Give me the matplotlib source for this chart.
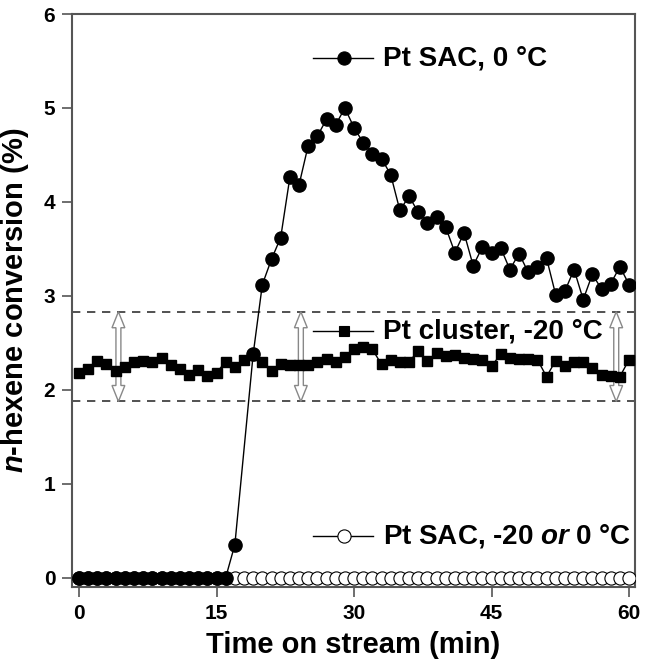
import numpy as np
import matplotlib.pyplot as plt
from matplotlib.patches import Polygon

plt.rcParams['font.family'] = ['Liberation Sans', 'DejaVu Sans']
plt.rcParams['font.weight'] = 'bold'
plt.rcParams['mathtext.fontset'] = 'custom'
plt.rcParams['mathtext.it'] = 'Liberation Sans:italic'
plt.rcParams['mathtext.bfit'] = 'Liberation Sans:italic:bold'
plt.rcParams['mathtext.rm'] = 'Liberation Sans:bold'

# Pt SAC at 0 C (no point recorded at 18 min)
t_sac0 = list(range(0, 18)) + list(range(19, 61))
y_sac0 = [0] * 17 + [0.35, 2.38, 3.12, 3.39, 3.62, 4.26, 4.18, 4.60, 4.70, 4.88,
                     4.82, 5.00, 4.79, 4.63, 4.51, 4.46, 4.29, 3.91, 4.06, 3.89,
                     3.78, 3.84, 3.73, 3.46, 3.67, 3.32, 3.52, 3.46, 3.51, 3.28,
                     3.45, 3.25, 3.31, 3.40, 3.01, 3.05, 3.28, 2.96, 3.23, 3.07,
                     3.13, 3.31, 3.12]

# Pt cluster at -20 C
t_cluster = list(range(0, 61))
y_cluster = [2.18, 2.22, 2.31, 2.27, 2.20, 2.24, 2.29, 2.31, 2.30, 2.34,
             2.26, 2.22, 2.16, 2.21, 2.15, 2.18, 2.30, 2.24, 2.32, 2.37,
             2.30, 2.20, 2.27, 2.26, 2.26, 2.26, 2.29, 2.33, 2.30, 2.35,
             2.43, 2.46, 2.43, 2.27, 2.32, 2.29, 2.30, 2.41, 2.31, 2.39,
             2.36, 2.37, 2.34, 2.33, 2.32, 2.25, 2.38, 2.34, 2.33, 2.33,
             2.32, 2.14, 2.31, 2.25, 2.29, 2.29, 2.23, 2.16, 2.15, 2.14,
             2.32]

# Pt SAC at -20 or 0 C, no conversion
t_sac_off = list(range(0, 61))
y_sac_off = [0] * 61

band_lo, band_hi = 1.875, 2.83
arrow_x = [4.3, 24.2, 58.6]

labels = ['Pt SAC, 0 °C', 'Pt cluster, -20 °C', r'Pt SAC, -20 $\mathit{or}$ 0 °C']
label_y = [5.53, 2.62, 0.44]
label_marker = [dict(marker='o', mfc='black', ms=9.5),
                dict(marker='s', mfc='black', ms=7),
                dict(marker='o', mfc='white', ms=9.5)]

fig = plt.figure(figsize=(6.46, 6.68), dpi=100)
ax = fig.add_axes([0.1115, 0.1213, 0.8715, 0.8577])

ax.axhline(band_hi, color='#333333', lw=1.2, ls=(0, (5, 4)), zorder=1)
ax.axhline(band_lo, color='#333333', lw=1.2, ls=(0, (5, 4)), zorder=1)

# hollow double-headed arrows
hw, HW, hl = 0.27, 0.7, 0.17
for x in arrow_x:
    pts = [(x, band_hi), (x + HW, band_hi - hl), (x + hw, band_hi - hl),
           (x + hw, band_lo + hl), (x + HW, band_lo + hl), (x, band_lo),
           (x - HW, band_lo + hl), (x - hw, band_lo + hl), (x - hw, band_hi - hl),
           (x - HW, band_hi - hl)]
    ax.add_patch(Polygon(pts, closed=True, fc='white', ec='#888888', lw=1, zorder=2))

ax.plot(t_sac_off, y_sac_off, color='black', lw=1, marker='o', mfc='white',
        mec='black', mew=0.8, ms=9.5, zorder=3)
ax.plot(t_cluster, y_cluster, color='black', lw=1, marker='s', mfc='black',
        mec='black', ms=7, zorder=4)
ax.plot(t_sac0, y_sac0, color='black', lw=1, marker='o', mfc='black',
        mec='black', ms=9.5, zorder=5)

# inline legend entries
for lab, yy, mk in zip(labels, label_y, label_marker):
    ax.plot([25.5, 32.1], [yy, yy], color='black', lw=1, zorder=6)
    ax.plot([28.9], [yy], color='black', mec='black', mew=0.8, zorder=7, **mk)
    ax.text(33.2, yy, lab, fontsize=20, fontweight='bold', va='center',
            ha='left', zorder=7)

ax.set_xlim(-0.76, 60.65)
ax.set_ylim(-0.1, 6)
ax.set_xticks([0, 15, 30, 45, 60])
ax.set_yticks([0, 1, 2, 3, 4, 5, 6])

for s in ax.spines.values():
    s.set_color('#555555')
    s.set_linewidth(1.5)
ax.tick_params(direction='out', length=7, width=1.2, color='#555555',
               labelsize=15, pad=5)
for lbl in ax.get_xticklabels() + ax.get_yticklabels():
    lbl.set_fontweight('bold')

ax.set_xlabel('Time on stream (min)', fontsize=21, fontweight='bold', labelpad=6)
ax.set_ylabel(r'$\mathbfit{n}$-hexene conversion (%)', fontsize=21,
              fontweight='bold')
ax.yaxis.set_label_coords(-0.072, 0.5)

fig.savefig('out.png', dpi=100)
